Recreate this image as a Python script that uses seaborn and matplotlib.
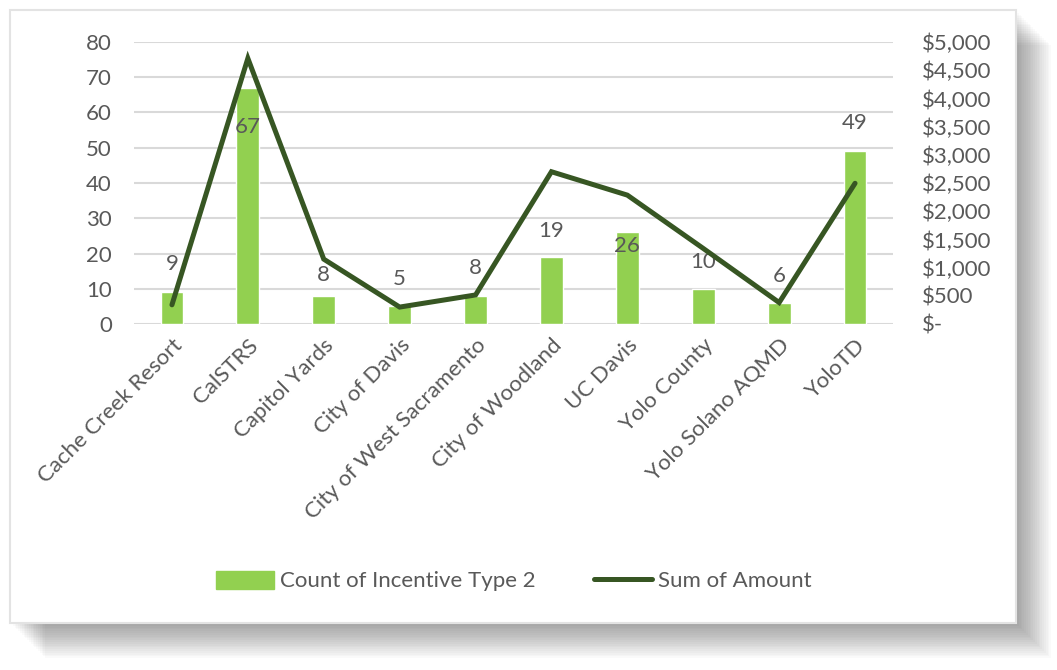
import matplotlib
matplotlib.use("Agg")
import matplotlib.pyplot as plt
import matplotlib.patches as mpatches
from matplotlib.lines import Line2D
from matplotlib.ticker import FuncFormatter, MultipleLocator
import numpy as np
import pandas as pd
import seaborn as sns

# data
categories = [
    "Cache Creek Resort", "CalSTRS", "Capitol Yards", "City of Davis",
    "City of West Sacramento", "City of Woodland", "UC Davis", "Yolo County",
    "Yolo Solano AQMD", "YoloTD",
]
incentive_counts = [9, 67, 8, 5, 8, 19, 26, 10, 6, 49]
amount_sums = [340, 4710, 1150, 300, 515, 2700, 2285, 1340, 380, 2495]

# label nudges (points) so they sit where the original put them
label_offsets = [20, -28, 15, 20, 20, 19, -10, 19, 19, 20]

BAR_COLOR = "#92D050"
LINE_COLOR = "#375623"
TEXT_COLOR = "#595959"
GRID_COLOR = "#D9D9D9"
FS = 16

sns.set_theme(style="white")
plt.rcParams["font.family"] = ["Lato", "DejaVu Sans"]

df = pd.DataFrame({
    "category": categories,
    "count": incentive_counts,
    "amount": amount_sums,
    "pos": np.arange(len(categories)),
})

fig = plt.figure(figsize=(10.57, 6.70), dpi=100)
fig.patch.set_facecolor("white")

# card with soft drop shadow
for i in range(20):
    off = 1 + i * 1.8
    fig.patches.append(mpatches.Rectangle(
        ((10 + off) / 1057, 1 - (623 + off) / 670), 1006 / 1057, 613 / 670,
        transform=fig.transFigure, facecolor="#000000", alpha=0.019,
        edgecolor="none", zorder=-3))
fig.patches.append(mpatches.Rectangle(
    (10 / 1057, 1 - 623 / 670), 1006 / 1057, 613 / 670,
    transform=fig.transFigure, facecolor="white", edgecolor="#E3E3E3",
    linewidth=1.5, zorder=-2))

ax = fig.add_axes([134 / 1057, 1 - 324 / 670, (893 - 134) / 1057, (324 - 42) / 670])
ax.set_facecolor("none")
sns.barplot(data=df, x="category", y="count", color=BAR_COLOR, width=0.3,
            saturation=1, ax=ax, zorder=2)
ax.set_xlim(-0.5, len(categories) - 0.5)
ax.set_ylim(0, 80)
ax.yaxis.set_major_locator(MultipleLocator(10))
ax.grid(axis="y", color=GRID_COLOR, linewidth=1.5)
ax.set_axisbelow(True)
for s in ax.spines.values():
    s.set_visible(False)
ax.set_xlabel("")
ax.set_ylabel("")
ax.tick_params(axis="y", length=0, pad=16, labelsize=FS, labelcolor=TEXT_COLOR)
ax.tick_params(axis="x", length=0, pad=8, labelsize=FS, labelcolor=TEXT_COLOR)
ax.set_xticks(np.arange(len(categories)))
ax.set_xticklabels(categories, rotation=45, ha="right", va="top",
                   rotation_mode="anchor")

for x, v, off in zip(df["pos"], incentive_counts, label_offsets):
    ax.annotate(str(v), (x, v), xytext=(0, off), textcoords="offset points",
                ha="center", va="center", fontsize=FS, color=TEXT_COLOR,
                zorder=3)

ax2 = ax.twinx()
sns.lineplot(data=df, x="pos", y="amount", color=LINE_COLOR, linewidth=3.6,
             ax=ax2, solid_joinstyle="miter")
ax2.set_ylim(0, 5000)
ax2.yaxis.set_major_locator(MultipleLocator(500))
ax2.yaxis.set_major_formatter(
    FuncFormatter(lambda v, _: "$-" if v == 0 else f"${v:,.0f}"))
ax2.tick_params(axis="y", length=0, pad=21, labelsize=FS, labelcolor=TEXT_COLOR)
for s in ax2.spines.values():
    s.set_visible(False)
ax2.set_xlabel("")
ax2.set_ylabel("")
ax2.set_xlim(-0.5, len(categories) - 0.5)

handles = [
    mpatches.Patch(color=BAR_COLOR, label="Count of Incentive Type 2"),
    Line2D([0], [0], color=LINE_COLOR, linewidth=3.6, label="Sum of Amount"),
]
fig.legend(handles=handles, loc="center", bbox_to_anchor=(514 / 1057, 1 - 581 / 670),
           ncol=2, frameon=False, fontsize=FS, labelcolor=TEXT_COLOR,
           handlelength=2.6, handleheight=0.9, columnspacing=2.6, handletextpad=0.3)

fig.savefig("out.png", dpi=100, facecolor=fig.get_facecolor())
